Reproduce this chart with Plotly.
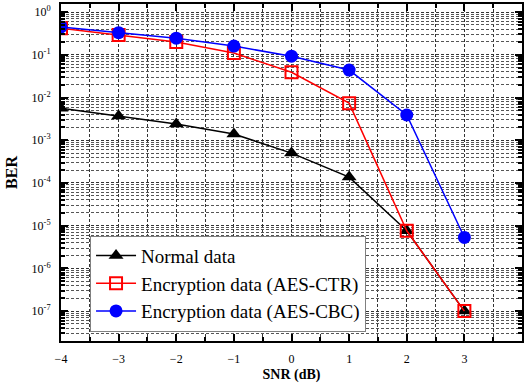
import plotly.graph_objects as go

snr = [-4, -3, -2, -1, 0, 1, 2, 3]
ber_normal = [5.6e-3, 3.7e-3, 2.4e-3, 1.4e-3, 5.0e-4, 1.37e-4, 7.6e-6, 1.0e-7]
ber_ctr = [0.42, 0.29, 0.20, 0.11, 0.039, 7.4e-3, 7.6e-6, 1.0e-7]
ber_cbc = [0.45, 0.33, 0.245, 0.16, 0.093, 0.044, 3.9e-3, 5.3e-6]

names = ["Normal data", "Encryption data (AES-CTR)", "Encryption data (AES-CBC)"]

ytickvals = [1, 1e-1, 1e-2, 1e-3, 1e-4, 1e-5, 1e-6, 1e-7]
yticktext = ["10<sup>0</sup>", "10<sup>-1</sup>", "10<sup>-2</sup>", "10<sup>-3</sup>",
             "10<sup>-4</sup>", "10<sup>-5</sup>", "10<sup>-6</sup>", "10<sup>-7</sup>"]
xtickvals = [-4, -3, -2, -1, 0, 1, 2, 3, 4]

font_family = "Liberation Serif, Times New Roman, serif"

fig = go.Figure()
fig.add_trace(go.Scatter(
    x=snr, y=ber_normal, name=names[0], mode="lines+markers",
    line=dict(color="black", width=1.5),
    marker=dict(symbol="triangle-up", size=13, color="black"),
))
fig.add_trace(go.Scatter(
    x=snr, y=ber_ctr, name=names[1], mode="lines+markers",
    line=dict(color="red", width=1.5),
    marker=dict(symbol="square-open", size=12, color="red", line=dict(width=2, color="red")),
))
fig.add_trace(go.Scatter(
    x=snr, y=ber_cbc, name=names[2], mode="lines+markers",
    line=dict(color="blue", width=1.5),
    marker=dict(symbol="circle", size=13, color="blue"),
))

grid_dash = "3px,2px"

fig.update_layout(
    width=524, height=386,
    margin=dict(l=61, r=2, t=4, b=45, autoexpand=False),
    paper_bgcolor="white", plot_bgcolor="white",
    font=dict(family=font_family, color="black", size=11),
    showlegend=True,
    legend=dict(
        x=0.063, y=0.17, xanchor="left", yanchor="middle",
        bgcolor="white", bordercolor="#808080", borderwidth=1,
        font=dict(family=font_family, size=19, color="black"),
        itemwidth=40, tracegroupgap=0,
    ),
    xaxis=dict(
        range=[-4, 4], tickvals=xtickvals, automargin=False,
        ticks="inside", ticklen=7, tickwidth=1.5, tickcolor="black",
        ticklabelstandoff=6,
        mirror="allticks", showline=True, linecolor="black", linewidth=2,
        showgrid=True, gridcolor="#333333", gridwidth=1, griddash=grid_dash,
        zeroline=False,
        minor=dict(dtick=0.5, ticks="inside", ticklen=4, tickcolor="black",
                   showgrid=True, gridcolor="#333333", gridwidth=1, griddash=grid_dash),
        title=dict(text="<b>SNR (dB)</b>", font=dict(family=font_family, size=14), standoff=4),
        tickfont=dict(family=font_family, size=12),
    ),
    yaxis=dict(
        type="log", range=[-7.7, 0.19], automargin=False,
        tickvals=ytickvals, ticktext=yticktext,
        ticks="inside", ticklen=7, tickwidth=1.5, tickcolor="black",
        ticklabelstandoff=6,
        mirror="allticks", showline=True, linecolor="black", linewidth=2,
        showgrid=True, gridcolor="#333333", gridwidth=1, griddash=grid_dash,
        zeroline=False,
        minor=dict(dtick="D1", ticks="inside", ticklen=4, tickcolor="black",
                   showgrid=True, gridcolor="#555555", gridwidth=1, griddash=grid_dash),
        title=dict(text="<b>BER</b>", font=dict(family=font_family, size=16), standoff=10),
        tickfont=dict(family=font_family, size=12),
    ),
)

fig.write_html("out.html", config={"displayModeBar": False},
               post_script="document.body.style.margin='0';")
